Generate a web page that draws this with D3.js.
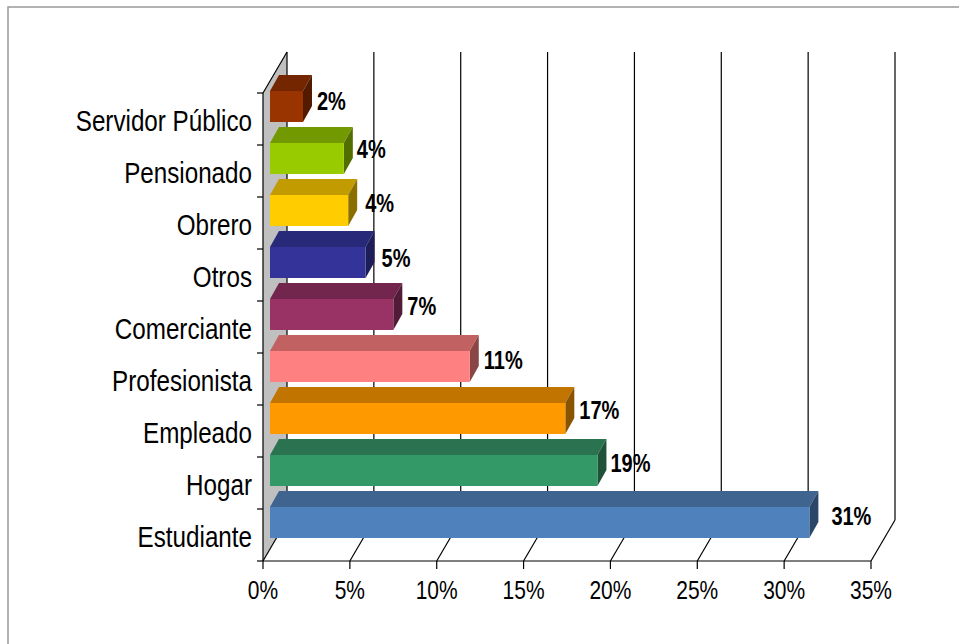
<!DOCTYPE html>
<html><head><meta charset="utf-8">
<script src="https://cdn.jsdelivr.net/npm/d3@7/dist/d3.min.js"></script>
<style>html,body{margin:0;background:#fff}svg{display:block}text{font-family:"Liberation Sans",Arial,sans-serif}</style>
</head><body><svg id="c" width="959" height="644"></svg>
<script>
const categories=["Estudiante","Hogar","Empleado","Profesionista","Comerciante","Otros","Obrero","Pensionado","Servidor Público"];
const values=[31.05,18.85,17,11.5,7.1,5.5,4.5,4.25,1.9];
const valueLabels=["31%","19%","17%","11%","7%","5%","4%","4%","2%"];
const frontColors=["#4f81bd","#339966","#ff9900","#ff8080","#993366","#333399","#ffcc00","#99cc00","#993300"];
const topColors=["#3f6490","#2b7350","#c27400","#c26161","#73264d","#29297a","#c29b00","#739900","#732600"];
const sideColors=["#2a4668","#205239","#8a5300","#8a4545","#521b37","#1d1d57","#8a6f00","#526e00","#521b00"];
const ticks=[0,5,10,15,20,25,30,35];
// hand-placed label nudges seen in the reference
const nudgeX=[13,4,5,5,5,7,8,4,5];
const nudgeY=[-2,-3,-4,-2,-4,0,-3,-5,-1];

const svg=d3.select("#c");
const x=d3.scaleLinear().domain([0,35]).range([263,871]);
const y=d3.scaleBand().domain(categories).range([561,93]);
const dx=24,dy=-41,bdx=9,bdy=-16,bx=7;
const poly=(pts,fill)=>svg.append("polygon").attr("points",pts.map(p=>p.join(",")).join(" ")).attr("fill",fill);
const seg=(a,b,c,w)=>svg.append("line").attr("x1",a[0]).attr("y1",a[1]).attr("x2",b[0]).attr("y2",b[1]).attr("stroke",c||"#000").attr("stroke-width",w||1.2);
const squeeze=(sel,px,k)=>sel.attr("transform",`translate(${px},0) scale(${k},1) translate(${-px},0)`);

svg.append("rect").attr("x",8).attr("y",7).attr("width",1200).attr("height",1000).attr("fill","none").attr("stroke","#999").attr("stroke-width",1.5);

// walls
poly([[263,93],[287,52],[287,520],[263,561]],"#c0c0c0");
seg([263,93],[287,52]);seg([287,52],[287,520]);seg([263,93],[263,561]);
ticks.forEach(t=>{
  if(t>0){seg([x(t)+dx,52],[x(t)+dx,520]);}
  seg([x(t),561],[x(t)+dx,520]);
  seg([x(t),561],[x(t),569]);
  squeeze(svg.append("text").attr("x",x(t)).attr("y",599).attr("text-anchor","middle").attr("font-size",25).text(t+"%"),x(t),.84);
});
seg([263,561],[871,561]);
y.domain().forEach(c=>seg([257,y(c)+y.bandwidth()],[263,y(c)+y.bandwidth()]));
seg([257,93],[263,93]);

// bars
categories.forEach((c,i)=>{
  const x0=x(0)+bx,x1=x0+x(values[i])-x(0),yt=y(c)-2,yb=yt+31;
  poly([[x0,yt],[x0+bdx,yt+bdy],[x1+bdx,yt+bdy],[x1,yt]],topColors[i]);
  poly([[x1,yt],[x1+bdx,yt+bdy],[x1+bdx,yb+bdy],[x1,yb]],sideColors[i]);
  svg.append("rect").attr("x",x0).attr("y",yt).attr("width",x1-x0).attr("height",yb-yt).attr("fill",frontColors[i]);
});
// category labels
categories.forEach(c=>{
  squeeze(svg.append("text").attr("x",252).attr("y",y(c)+38).attr("text-anchor","end").attr("font-size",29).text(c),252,.835);
});
// value labels
categories.forEach((c,i)=>{
  const xl=x(values[i])+bx+bdx+nudgeX[i];
  squeeze(svg.append("text").attr("x",xl).attr("y",y(c)+18+nudgeY[i]).attr("font-size",25).attr("font-weight","bold").text(valueLabels[i]),xl,.8);
});
</script></body></html>
